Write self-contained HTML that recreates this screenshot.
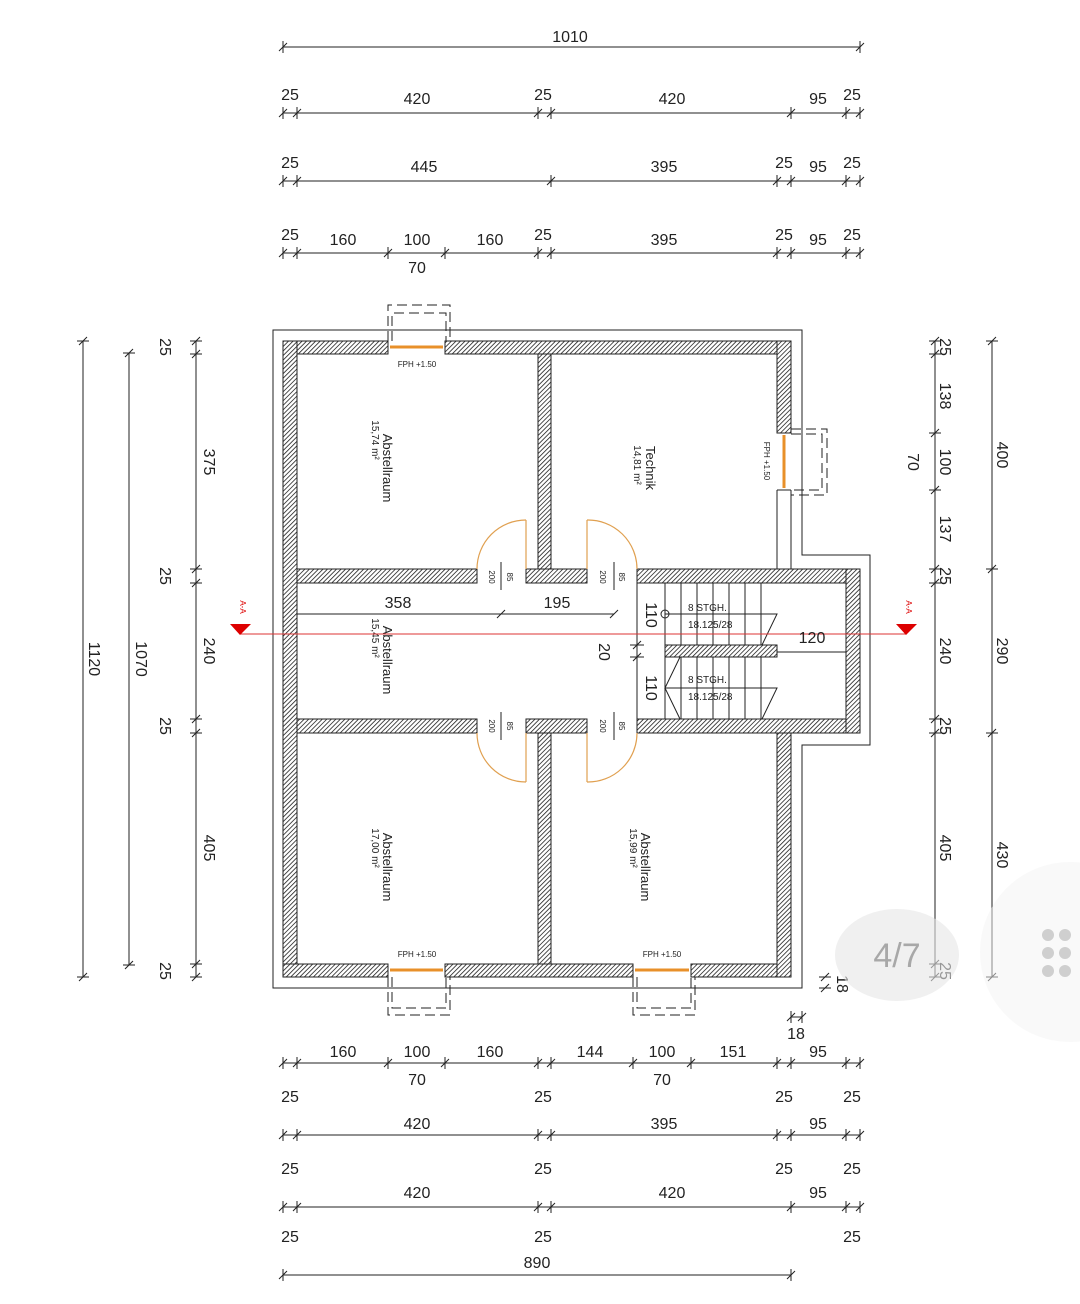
<!DOCTYPE html>
<html><head><meta charset="utf-8"><style>
html,body{margin:0;padding:0;background:#fff}
svg{display:block}
text{font-family:"Liberation Sans",sans-serif;fill:#222}
</style></head><body>
<svg width="1080" height="1304" viewBox="0 0 1080 1304" xmlns="http://www.w3.org/2000/svg">
<defs>
<pattern id="h" width="3.2" height="3.2" patternUnits="userSpaceOnUse" patternTransform="rotate(45)">
<rect width="3.2" height="3.2" fill="#fff"/><line x1="0" y1="0" x2="0" y2="3.2" stroke="#222" stroke-width="1.6"/></pattern>
</defs>
<g stroke="#222" stroke-width="1" fill="none">
<path d="M273 330 H802 V555 H870 V745 H802 V988 H273 Z"/>
</g>
<g fill="url(#h)" stroke="#222" stroke-width="1">
<rect x="283" y="341" width="105" height="13"/>
<rect x="445" y="341" width="346" height="13"/>
<rect x="283" y="341" width="14" height="636"/>
<rect x="283" y="964" width="105" height="13"/>
<rect x="445" y="964" width="188" height="13"/>
<rect x="691" y="964" width="100" height="13"/>
<rect x="777" y="341" width="14" height="92"/>
<rect x="777" y="733" width="14" height="244"/>
<rect x="538" y="354" width="13" height="215"/>
<rect x="538" y="733" width="13" height="231"/>
<rect x="297" y="569" width="180" height="14"/>
<rect x="526" y="569" width="61" height="14"/>
<rect x="637" y="569" width="223" height="14"/>
<rect x="297" y="719" width="180" height="14"/>
<rect x="526" y="719" width="61" height="14"/>
<rect x="637" y="719" width="223" height="14"/>
<rect x="846" y="569" width="14" height="164"/>
<rect x="665" y="645" width="112" height="12"/>
</g>
<g stroke="#222" stroke-width="1" fill="none">
<line x1="777" y1="490" x2="777" y2="569"/><line x1="791" y1="490" x2="791" y2="569"/>
<line x1="388" y1="341" x2="388" y2="354"/><line x1="445" y1="341" x2="445" y2="354"/>
<line x1="637" y1="583" x2="637" y2="719"/>
<path d="M681 583V645M697 583V645M713 583V645M729 583V645M745 583V645M761 583V645"/>
<path d="M681 657V719M697 657V719M713 657V719M729 657V719M745 657V719M761 657V719"/>
<line x1="665" y1="583" x2="665" y2="645"/><line x1="665" y1="657" x2="665" y2="719"/>
<path d="M665 614H777L762 645"/><path d="M680 657L665 688H777L762 719"/>
<line x1="665" y1="688" x2="680" y2="719"/>
<circle cx="665" cy="614" r="4"/>
<path d="M388 341V305H450V341M392 341V313H446V341" stroke-dasharray="10,5"/>
<path d="M388 977V1015H450V977M392 977V1008H446V977" stroke-dasharray="10,5"/>
<path d="M633 977V1015H695V977M637 977V1008H691V977" stroke-dasharray="10,5"/>
<path d="M791 429H827V495H791M791 434H822V490H791" stroke-dasharray="10,5"/>
<line x1="633" y1="964" x2="633" y2="977"/><line x1="691" y1="964" x2="691" y2="977"/>
<line x1="777" y1="433" x2="791" y2="433"/><line x1="777" y1="490" x2="791" y2="490"/>
</g>
<g stroke="#e8902a" stroke-width="3">
<line x1="390" y1="347" x2="443" y2="347"/>
<line x1="390" y1="970" x2="443" y2="970"/>
<line x1="635" y1="970" x2="689" y2="970"/>
<line x1="784" y1="435" x2="784" y2="488"/>
</g>
<g stroke="#e0a050" stroke-width="1.2" fill="none">
<path d="M477 569A49 49 0 0 1 526 520"/><path d="M637 569A49 49 0 0 0 587 520"/>
<path d="M477 733A49 49 0 0 0 526 782"/><path d="M637 733A49 49 0 0 1 587 782"/>
<path d="M526 520V569M587 520V569M526 733V782M587 733V782"/>
</g>
<g stroke="#222" stroke-width="1">
<line x1="501" y1="562" x2="501" y2="590"/><line x1="614" y1="562" x2="614" y2="590"/>
<line x1="501" y1="712" x2="501" y2="740"/><line x1="614" y1="712" x2="614" y2="740"/>
</g>
<g font-size="8">
<text transform="translate(489,577) rotate(90)" text-anchor="middle">200</text>
<text transform="translate(507,577) rotate(90)" text-anchor="middle">85</text>
<text transform="translate(600,577) rotate(90)" text-anchor="middle">200</text>
<text transform="translate(619,577) rotate(90)" text-anchor="middle">85</text>
<text transform="translate(489,726) rotate(90)" text-anchor="middle">200</text>
<text transform="translate(507,726) rotate(90)" text-anchor="middle">85</text>
<text transform="translate(600,726) rotate(90)" text-anchor="middle">200</text>
<text transform="translate(619,726) rotate(90)" text-anchor="middle">85</text>
<text x="417" y="367" text-anchor="middle">FPH +1.50</text>
<text x="417" y="957" text-anchor="middle">FPH +1.50</text>
<text x="662" y="957" text-anchor="middle">FPH +1.50</text>
<text transform="translate(764,461) rotate(90)" text-anchor="middle">FPH +1.50</text>
</g>
<g font-size="13">
<text transform="translate(383,468) rotate(90)" text-anchor="middle">Abstellraum</text>
<text transform="translate(646,468) rotate(90)" text-anchor="middle">Technik</text>
<text transform="translate(383,660) rotate(90)" text-anchor="middle">Abstellraum</text>
<text transform="translate(383,867) rotate(90)" text-anchor="middle">Abstellraum</text>
<text transform="translate(641,867) rotate(90)" text-anchor="middle">Abstellraum</text>
</g>
<g font-size="10">
<text transform="translate(372,440) rotate(90)" text-anchor="middle">15,74 m²</text>
<text transform="translate(634,465) rotate(90)" text-anchor="middle">14,81 m²</text>
<text transform="translate(372,638) rotate(90)" text-anchor="middle">15,45 m²</text>
<text transform="translate(372,848) rotate(90)" text-anchor="middle">17,00 m²</text>
<text transform="translate(630,848) rotate(90)" text-anchor="middle">15,99 m²</text>
<text x="688" y="611">8 STGH.</text><text x="688" y="628">18.125/28</text>
<text x="688" y="683">8 STGH.</text><text x="688" y="700">18.125/28</text>
</g>
<line x1="240" y1="634" x2="906" y2="634" stroke="#d33" stroke-width="1"/>
<path d="M230 624H251L240 635Z M896 624H917L906 635Z" fill="#d00"/>
<text transform="translate(240,607) rotate(90)" font-size="8" text-anchor="middle" style="fill:#d00">A-A</text>
<text transform="translate(906,607) rotate(90)" font-size="8" text-anchor="middle" style="fill:#d00">A-A</text>
<g stroke="#222" stroke-width="1">
<line x1="297" y1="614" x2="614" y2="614"/>
<line x1="777" y1="652" x2="846" y2="652"/>
<path d="M497 618l8-8M610 618l8-8M633 649l8-8M633 661l8-8"/>
<line x1="630" y1="645" x2="644" y2="645"/><line x1="630" y1="657" x2="644" y2="657"/>
</g>
<g font-size="16">
<text x="398" y="608" text-anchor="middle">358</text>
<text x="557" y="608" text-anchor="middle">195</text>
<text x="812" y="643" text-anchor="middle">120</text>
<text transform="translate(646,615) rotate(90)" text-anchor="middle">110</text>
<text transform="translate(646,688) rotate(90)" text-anchor="middle">110</text>
<text transform="translate(599,652) rotate(90)" text-anchor="middle">20</text>
</g>
<g stroke="#222" stroke-width="1">
<line x1="283" y1="47" x2="860" y2="47"/>
<line x1="283" y1="113" x2="860" y2="113"/>
<line x1="283" y1="181" x2="860" y2="181"/>
<line x1="283" y1="253" x2="860" y2="253"/>
<line x1="283" y1="1063" x2="860" y2="1063"/>
<line x1="283" y1="1135" x2="860" y2="1135"/>
<line x1="283" y1="1207" x2="860" y2="1207"/>
<line x1="283" y1="1275" x2="791" y2="1275"/>
<path d="M283 41v12M860 41v12M279 51l8-8M856 51l8-8"/>
<path d="M279 117l8-8M293 117l8-8M534 117l8-8M547 117l8-8M787 117l8-8M842 117l8-8M856 117l8-8M283 107v12M297 107v12M538 107v12M551 107v12M791 107v12M846 107v12M860 107v12"/>
<path d="M279 185l8-8M293 185l8-8M547 185l8-8M773 185l8-8M787 185l8-8M842 185l8-8M856 185l8-8M283 175v12M297 175v12M551 175v12M777 175v12M791 175v12M846 175v12M860 175v12"/>
<path d="M279 257l8-8M293 257l8-8M384 257l8-8M441 257l8-8M534 257l8-8M547 257l8-8M773 257l8-8M787 257l8-8M842 257l8-8M856 257l8-8M283 247v12M297 247v12M388 247v12M445 247v12M538 247v12M551 247v12M777 247v12M791 247v12M846 247v12M860 247v12"/>
<path d="M279 1067l8-8M293 1067l8-8M384 1067l8-8M441 1067l8-8M534 1067l8-8M547 1067l8-8M629 1067l8-8M687 1067l8-8M773 1067l8-8M787 1067l8-8M842 1067l8-8M856 1067l8-8M283 1057v12M297 1057v12M388 1057v12M445 1057v12M538 1057v12M551 1057v12M633 1057v12M691 1057v12M777 1057v12M791 1057v12M846 1057v12M860 1057v12"/>
<path d="M279 1139l8-8M293 1139l8-8M534 1139l8-8M547 1139l8-8M773 1139l8-8M787 1139l8-8M842 1139l8-8M856 1139l8-8M283 1129v12M297 1129v12M538 1129v12M551 1129v12M777 1129v12M791 1129v12M846 1129v12M860 1129v12"/>
<path d="M279 1211l8-8M293 1211l8-8M534 1211l8-8M547 1211l8-8M787 1211l8-8M842 1211l8-8M856 1211l8-8M283 1201v12M297 1201v12M538 1201v12M551 1201v12M791 1201v12M846 1201v12M860 1201v12"/>
<path d="M283 1269v12M791 1269v12M279 1279l8-8M787 1279l8-8"/>
<line x1="83" y1="341" x2="83" y2="977"/>
<line x1="129" y1="353" x2="129" y2="965"/>
<line x1="196" y1="341" x2="196" y2="977"/>
<line x1="935" y1="341" x2="935" y2="977"/>
<line x1="992" y1="341" x2="992" y2="977"/>
<path d="M77 341h12M77 977h12M79 345l8-8M79 981l8-8M123 353h12M123 965h12M125 357l8-8M125 969l8-8"/>
<path d="M190 341h12M190 354h12M190 569h12M190 583h12M190 719h12M190 733h12M190 964h12M190 977h12M192 345l8-8M192 358l8-8M192 573l8-8M192 587l8-8M192 723l8-8M192 737l8-8M192 968l8-8M192 981l8-8"/>
<path d="M929 341h12M929 354h12M929 433h12M929 490h12M929 569h12M929 583h12M929 719h12M929 733h12M929 964h12M929 977h12M931 345l8-8M931 358l8-8M931 437l8-8M931 494l8-8M931 573l8-8M931 587l8-8M931 723l8-8M931 737l8-8M931 968l8-8M931 981l8-8"/>
<path d="M986 341h12M986 569h12M986 733h12M986 977h12M988 345l8-8M988 573l8-8M988 737l8-8M988 981l8-8"/>
<path d="M819 977h12M819 988h12M821 981l8-8M821 992l8-8M791 1011v12M802 1011v12M787 1021l8-8M798 1021l8-8M791 1017h11"/>
</g>
<g font-size="16">
<text x="570" y="42" text-anchor="middle">1010</text>
<text x="290" y="100" text-anchor="middle">25</text><text x="417" y="104" text-anchor="middle">420</text><text x="543" y="100" text-anchor="middle">25</text><text x="672" y="104" text-anchor="middle">420</text><text x="818" y="104" text-anchor="middle">95</text><text x="852" y="100" text-anchor="middle">25</text>
<text x="290" y="168" text-anchor="middle">25</text><text x="424" y="172" text-anchor="middle">445</text><text x="664" y="172" text-anchor="middle">395</text><text x="784" y="168" text-anchor="middle">25</text><text x="818" y="172" text-anchor="middle">95</text><text x="852" y="168" text-anchor="middle">25</text>
<text x="290" y="240" text-anchor="middle">25</text><text x="343" y="245" text-anchor="middle">160</text><text x="417" y="245" text-anchor="middle">100</text><text x="490" y="245" text-anchor="middle">160</text><text x="543" y="240" text-anchor="middle">25</text><text x="664" y="245" text-anchor="middle">395</text><text x="784" y="240" text-anchor="middle">25</text><text x="818" y="245" text-anchor="middle">95</text><text x="852" y="240" text-anchor="middle">25</text>
<text x="417" y="273" text-anchor="middle">70</text>
<text x="343" y="1057" text-anchor="middle">160</text><text x="417" y="1057" text-anchor="middle">100</text><text x="490" y="1057" text-anchor="middle">160</text><text x="590" y="1057" text-anchor="middle">144</text><text x="662" y="1057" text-anchor="middle">100</text><text x="733" y="1057" text-anchor="middle">151</text><text x="818" y="1057" text-anchor="middle">95</text>
<text x="417" y="1085" text-anchor="middle">70</text><text x="662" y="1085" text-anchor="middle">70</text>
<text x="290" y="1102" text-anchor="middle">25</text><text x="543" y="1102" text-anchor="middle">25</text><text x="784" y="1102" text-anchor="middle">25</text><text x="852" y="1102" text-anchor="middle">25</text>
<text x="417" y="1129" text-anchor="middle">420</text><text x="664" y="1129" text-anchor="middle">395</text><text x="818" y="1129" text-anchor="middle">95</text>
<text x="290" y="1174" text-anchor="middle">25</text><text x="543" y="1174" text-anchor="middle">25</text><text x="784" y="1174" text-anchor="middle">25</text><text x="852" y="1174" text-anchor="middle">25</text>
<text x="417" y="1198" text-anchor="middle">420</text><text x="672" y="1198" text-anchor="middle">420</text><text x="818" y="1198" text-anchor="middle">95</text>
<text x="290" y="1242" text-anchor="middle">25</text><text x="543" y="1242" text-anchor="middle">25</text><text x="852" y="1242" text-anchor="middle">25</text>
<text x="537" y="1268" text-anchor="middle">890</text>
<text x="796" y="1039" text-anchor="middle">18</text>
<text transform="translate(837,984) rotate(90)" text-anchor="middle">18</text>
<text transform="translate(89,659) rotate(90)" text-anchor="middle">1120</text>
<text transform="translate(136,659) rotate(90)" text-anchor="middle">1070</text>
<text transform="translate(160,347) rotate(90)" text-anchor="middle">25</text>
<text transform="translate(204,462) rotate(90)" text-anchor="middle">375</text>
<text transform="translate(160,576) rotate(90)" text-anchor="middle">25</text>
<text transform="translate(204,651) rotate(90)" text-anchor="middle">240</text>
<text transform="translate(160,726) rotate(90)" text-anchor="middle">25</text>
<text transform="translate(204,848) rotate(90)" text-anchor="middle">405</text>
<text transform="translate(160,971) rotate(90)" text-anchor="middle">25</text>
<text transform="translate(940,347) rotate(90)" text-anchor="middle">25</text>
<text transform="translate(940,396) rotate(90)" text-anchor="middle">138</text>
<text transform="translate(940,462) rotate(90)" text-anchor="middle">100</text>
<text transform="translate(908,462) rotate(90)" text-anchor="middle">70</text>
<text transform="translate(940,529) rotate(90)" text-anchor="middle">137</text>
<text transform="translate(940,576) rotate(90)" text-anchor="middle">25</text>
<text transform="translate(940,651) rotate(90)" text-anchor="middle">240</text>
<text transform="translate(940,726) rotate(90)" text-anchor="middle">25</text>
<text transform="translate(940,848) rotate(90)" text-anchor="middle">405</text>
<text transform="translate(940,971) rotate(90)" text-anchor="middle">25</text>
<text transform="translate(997,455) rotate(90)" text-anchor="middle">400</text>
<text transform="translate(997,651) rotate(90)" text-anchor="middle">290</text>
<text transform="translate(997,855) rotate(90)" text-anchor="middle">430</text>
</g>
<ellipse cx="897" cy="955" rx="62" ry="46" fill="#e6e6e6" opacity="0.6"/>
<text x="897" y="967" font-size="34" text-anchor="middle" style="fill:#a8a8a8">4/7</text>
<circle cx="1070" cy="952" r="90" fill="#f4f4f4" opacity="0.5"/>
<g fill="#cfcfcf">
<circle cx="1048" cy="935" r="6"/><circle cx="1065" cy="935" r="6"/>
<circle cx="1048" cy="953" r="6"/><circle cx="1065" cy="953" r="6"/>
<circle cx="1048" cy="971" r="6"/><circle cx="1065" cy="971" r="6"/>
</g>
</svg>
</body></html>
